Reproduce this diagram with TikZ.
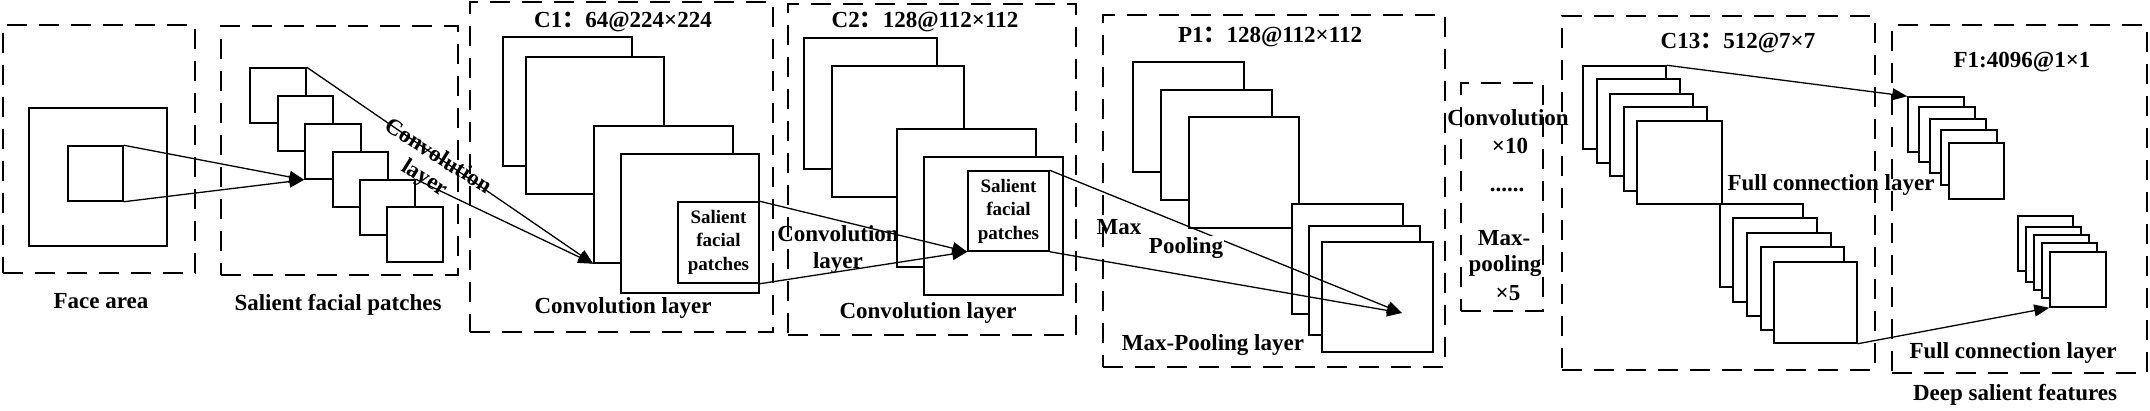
\documentclass[tikz,border=0pt]{standalone}
\usepackage{fontspec}
\setmainfont{Liberation Serif}
\newfontfamily\cjk{Noto Sans CJK SC}
\usetikzlibrary{fit,arrows.meta}
\newcommand\sqnode[5]{\node[sq, fit={(#2,#3)(#4,#5)}] (#1) {};}
\newcommand\dboxnode[5]{\node[dbox, fit={(#2,#3)(#4,#5)}] (#1) {};}
\begin{document}
\begin{tikzpicture}[x=1pt,y=-1pt,
  sq/.style={draw, fill=white, line width=1.5pt, inner sep=0pt},
  dbox/.style={draw, line width=1.7pt, dash pattern=on 20pt off 12pt, inner sep=0pt},
  lab/.style={font=\bfseries\fontsize{23}{27}\selectfont, inner sep=0pt, align=center},
  sml/.style={font=\bfseries\fontsize{19}{23.5}\selectfont, inner sep=0pt, align=center},
  arr/.style={-{Triangle[length=15pt,width=12pt]}, line width=1.3pt}]
\useasboundingbox (0,0) rectangle (2150,410);
\fill[white] (0,0) rectangle (2150,410);
% dashed boxes
\dboxnode{bFace}{3}{25}{195}{273}
\dboxnode{bPatch}{221}{26}{458}{275}
\dboxnode{bC1}{470}{2}{773}{332}
\dboxnode{bC2}{788}{4}{1076}{335}
\dboxnode{bP1}{1103}{15}{1445}{367}
\dboxnode{bRep}{1461}{83}{1543}{311}
\dboxnode{bC13}{1562}{16}{1875}{370}
\dboxnode{bF1}{1892}{25}{2147}{373}
% face area
\sqnode{face}{29}{108}{167}{246}
\sqnode{faceIn}{68}{146}{123}{201}
% salient patches
\sqnode{p1}{250}{68}{306}{123}
\sqnode{p2}{278}{96}{333}{151}
\sqnode{p3}{305}{124}{361}{179}
\sqnode{p4}{333}{152}{388}{207}
\sqnode{p5}{360}{180}{415}{235}
\sqnode{p6}{387}{207}{443}{262}
% C1
\sqnode{c1a}{503}{37}{632}{166}
\sqnode{c1b}{526}{57}{664}{194}
\sqnode{c1c}{594}{126}{733}{263}
\sqnode{c1d}{621}{154}{759}{293}
\sqnode{c1in}{678}{202}{759}{283}
\node[sml] (c1inT) at (718.5,242) {Salient\\facial\\patches};
% C2
\sqnode{c2a}{804}{38}{937}{169}
\sqnode{c2b}{832}{66}{964}{197}
\sqnode{c2c}{897}{129}{1036}{267}
\sqnode{c2d}{924}{157}{1063}{295}
\sqnode{c2in}{968}{171}{1049}{251}
\node[sml] (c2inT) at (1008.5,211) {Salient\\facial\\patches};
% P1
\sqnode{pa}{1133}{62}{1244}{172}
\sqnode{pb}{1161}{90}{1272}{200}
\sqnode{pc}{1189}{117}{1299}{228}
\sqnode{pd}{1292}{204}{1403}{314}
\sqnode{pe}{1309}{226}{1420}{335}
\sqnode{pf}{1322}{242}{1433}{352}
\coordinate (ptip) at (1402,313);
% C13
\sqnode{ca1}{1583}{66}{1666}{149}
\sqnode{ca2}{1597}{79}{1680}{163}
\sqnode{ca3}{1610}{94}{1693}{176}
\sqnode{ca4}{1624}{107}{1707}{191}
\sqnode{ca5}{1637}{121}{1722}{204}
\sqnode{cb1}{1720}{204}{1803}{287}
\sqnode{cb2}{1733}{218}{1817}{302}
\sqnode{cb3}{1747}{233}{1831}{316}
\sqnode{cb4}{1761}{247}{1844}{330}
\sqnode{cb5}{1774}{262}{1857}{343}
% F1
\sqnode{fa1}{1908}{97}{1964}{152}
\sqnode{fa2}{1919}{107}{1975}{162}
\sqnode{fa3}{1930}{119}{1986}{173}
\sqnode{fa4}{1941}{130}{1997}{185}
\sqnode{fa5}{1949}{143}{2004}{199}
\sqnode{fb1}{2018}{216}{2073}{271}
\sqnode{fb2}{2026}{227}{2081}{282}
\sqnode{fb3}{2034}{235}{2089}{290}
\sqnode{fb4}{2042}{243}{2097}{298}
\sqnode{fb5}{2050}{252}{2106}{307}
% connectors
\draw[arr] (faceIn.north east) -- (p3.south west);
\draw[arr] (faceIn.south east) -- (p3.south west);
\draw[arr] (p1.north east) -- (c1c.south west);
\draw[arr] (p5.north east) -- (c1c.south west);
\draw[arr] (c1in.north east) -- (c2in.south west);
\draw[arr] (c1in.south east) -- (c2in.south west);
\draw[arr] (c2in.north east) -- (ptip);
\draw[arr] (c2in.south east) -- (ptip);
\draw[arr] (ca1.north east) -- (fa1.north west);
\draw[arr] (cb5.south east) -- (fb5.south west);
% labels
\node[lab] (tFace) at (101,301) {Face area};
\node[lab] (tPatch) at (338,305) {Salient facial patches};
\node[lab, rotate=-32, font=\bfseries\fontsize{23}{25}\selectfont] (tConv1) at (431,168) {Convolution\\layer};
\node[lab] (tC1) at (623,22) {C1{\cjk ：}64@224×224};
\node[lab] (tC1b) at (623,308) {Convolution layer};
\node[lab] (tConv2) at (838,249) {Convolution\\layer};
\node[lab] (tC2) at (925,22) {C2{\cjk ：}128@112×112};
\node[lab] (tC2b) at (928,313) {Convolution layer};
\node[lab] (tP1) at (1270,37) {P1{\cjk ：}128@112×112};
\node[lab] (tMax) at (1119,227) {Max};
\node[lab, fill=white, inner sep=1pt] (tPool) at (1186,248) {Pooling};
\node[lab] (tP1b) at (1213,345) {Max-Pooling layer};
\node[lab] (tR1) at (1508,118) {Convolution};
\node[lab] (tR2) at (1510,146) {×10};
\node[lab] (tR3) at (1507,190) {......};
\node[lab] (tR4) at (1504,238) {Max-};
\node[lab] (tR5) at (1505,266) {pooling};
\node[lab] (tR6) at (1508,293) {×5};
\node[lab] (tC13) at (1738,43) {C13{\cjk ：}512@7×7};
\node[lab] (tFC1) at (1831,185) {Full connection layer};
\node[lab] (tF1) at (2022,62) {F1:4096@1×1};
\node[lab] (tFC2) at (2013,353) {Full connection layer};
\node[lab] (tDeep) at (2015,395) {Deep salient features};
\end{tikzpicture}
\end{document}
